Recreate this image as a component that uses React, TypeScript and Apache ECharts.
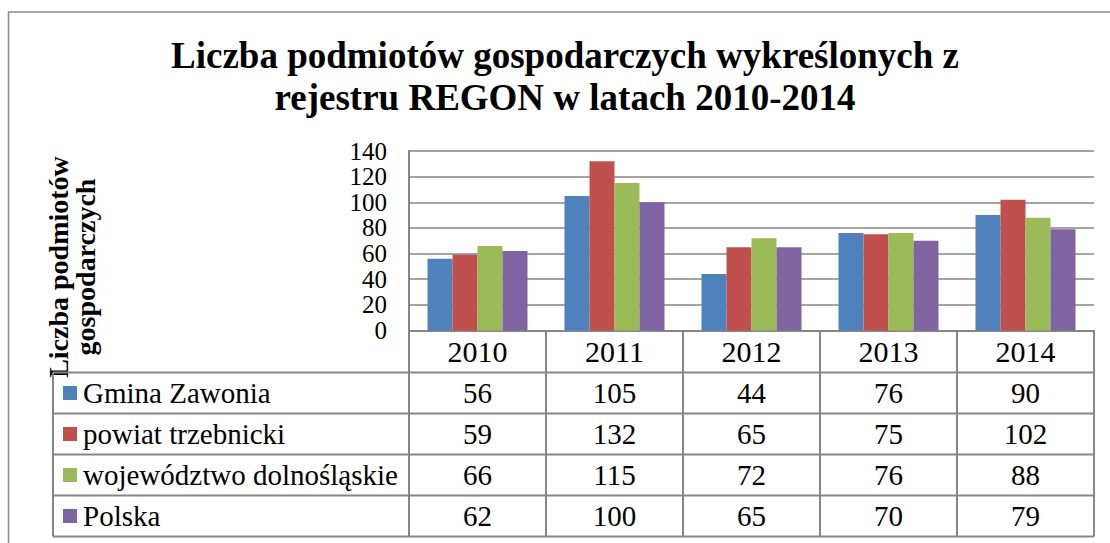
import React, { useEffect, useRef } from "react";
import * as echarts from "echarts";

const years = ["2010", "2011", "2012", "2013", "2014"];
const seriesNames = ["Gmina Zawonia", "powiat trzebnicki", "województwo dolnośląskie", "Polska"];
const gminaZawonia = [56, 105, 44, 76, 90];
const powiatTrzebnicki = [59, 132, 65, 75, 102];
const wojewodztwoDolnoslaskie = [66, 115, 72, 76, 88];
const polska = [62, 100, 65, 70, 79];
const yMin = 0;
const yMax = 140;
const yStep = 20;

const titleText = "Liczba podmiotów gospodarczych wykreślonych z\nrejestru REGON w latach 2010-2014";
const yTitleText = "Liczba podmiotów\ngospodarczych";

const colors = ["#4F81BD", "#C0504D", "#9BBB59", "#8064A2"];
const FONT = "Liberation Serif";
const GRAY = "#868686";

// layout
const GRID_LEFT = 409;
const GRID_TOP = 151;
const GRID_RIGHT_X = 1094;
const GRID_BOTTOM_Y = 330.5;
const ROW_TOP = 372.5;
const ROW_H = 41;
const LEG_LEFT = 53;

export default function App() {
  const ref = useRef<HTMLDivElement>(null);

  useEffect(() => {
    const el = ref.current;
    if (!el) return;
    const chart = echarts.init(el, null, { renderer: "svg" });
    const seriesValues = [gminaZawonia, powiatTrzebnicki, wojewodztwoDolnoslaskie, polska];
    const tableBottom = ROW_TOP + ROW_H * seriesNames.length;

    chart.setOption({
      animation: false,
      backgroundColor: "#ffffff",
      textStyle: { fontFamily: FONT },
      grid: {
        left: GRID_LEFT,
        top: GRID_TOP,
        width: GRID_RIGHT_X - GRID_LEFT,
        height: GRID_BOTTOM_Y - GRID_TOP,
        containLabel: false,
      },
      xAxis: {
        type: "category",
        data: years,
        boundaryGap: true,
        axisLine: { show: true, lineStyle: { color: GRAY, width: 2 } },
        axisTick: {
          show: true,
          length: tableBottom - GRID_BOTTOM_Y,
          lineStyle: { color: GRAY, width: 2 },
        },
        axisLabel: {
          fontFamily: FONT,
          fontWeight: "normal",
          fontSize: 30,
          color: "#000",
          margin: 21,
          verticalAlign: "middle",
        },
      },
      yAxis: {
        type: "value",
        min: yMin,
        max: yMax,
        interval: yStep,
        axisLine: { show: true, lineStyle: { color: GRAY, width: 2 } },
        axisTick: { show: false },
        splitLine: { show: true, lineStyle: { color: GRAY, width: 1.5 } },
        axisLabel: {
          fontFamily: FONT,
          fontWeight: "normal",
          fontSize: 25,
          color: "#000",
          margin: 22,
        },
      },
      series: seriesNames.map((name, i) => ({
        name,
        type: "bar",
        data: seriesValues[i],
        barGap: "0%",
        barCategoryGap: "27%",
        itemStyle: { color: colors[i] },
      })),
    });

    const centers = years.map((_, i) => chart.convertToPixel({ xAxisIndex: 0 }, i) as number);

    const graphic: any[] = [];
    // frame
    graphic.push({
      type: "polyline",
      shape: { points: [[8.5, 560], [8.5, 12], [1120, 12]] },
      style: { stroke: "#8a8a8a", lineWidth: 1.5, fill: null },
      silent: true,
    });
    // title
    graphic.push({
      type: "text",
      x: 565,
      y: 76.5,
      style: {
        text: titleText,
        fontFamily: FONT,
        fontWeight: "bold",
        fontSize: 37,
        lineHeight: 42,
        fill: "#000",
        align: "center",
        verticalAlign: "middle",
      },
    });
    // y axis title
    graphic.push({
      type: "text",
      x: 72,
      y: 267,
      rotation: Math.PI / 2,
      style: {
        text: yTitleText,
        fontFamily: FONT,
        fontWeight: "bold",
        fontSize: 28,
        lineHeight: 27,
        fill: "#000",
        align: "center",
        verticalAlign: "middle",
      },
    });
    // table horizontal lines
    for (let r = 0; r <= seriesNames.length; r++) {
      const y = ROW_TOP + r * ROW_H;
      graphic.push({
        type: "line",
        shape: { x1: LEG_LEFT, y1: y, x2: GRID_RIGHT_X, y2: y },
        style: { stroke: GRAY, lineWidth: 2 },
        silent: true,
      });
    }
    // legend column left line
    graphic.push({
      type: "line",
      shape: { x1: LEG_LEFT, y1: ROW_TOP, x2: LEG_LEFT, y2: tableBottom },
      style: { stroke: GRAY, lineWidth: 2 },
      silent: true,
    });
    // rows
    seriesNames.forEach((name, r) => {
      const cy = ROW_TOP + r * ROW_H + ROW_H / 2;
      graphic.push({
        type: "rect",
        shape: { x: 63, y: cy - 7, width: 14, height: 14 },
        style: { fill: colors[r] },
      });
      graphic.push({
        type: "text",
        x: 83,
        y: cy,
        style: {
          text: name,
          fontFamily: FONT,
          fontWeight: "normal",
          fontSize: 29,
          fill: "#000",
          align: "left",
          verticalAlign: "middle",
        },
      });
      seriesValues[r].forEach((v, c) => {
        graphic.push({
          type: "text",
          x: centers[c],
          y: cy,
          style: {
            text: String(v),
            fontFamily: FONT,
            fontWeight: "normal",
            fontSize: 29,
            fill: "#000",
            align: "center",
            verticalAlign: "middle",
          },
        });
      });
    });

    chart.setOption({ graphic });

    return () => chart.dispose();
  }, []);

  return (
    <div
      ref={ref}
      style={{ position: "absolute", left: 0, top: 0, width: 1110, height: 543, background: "#fff" }}
    />
  );
}
